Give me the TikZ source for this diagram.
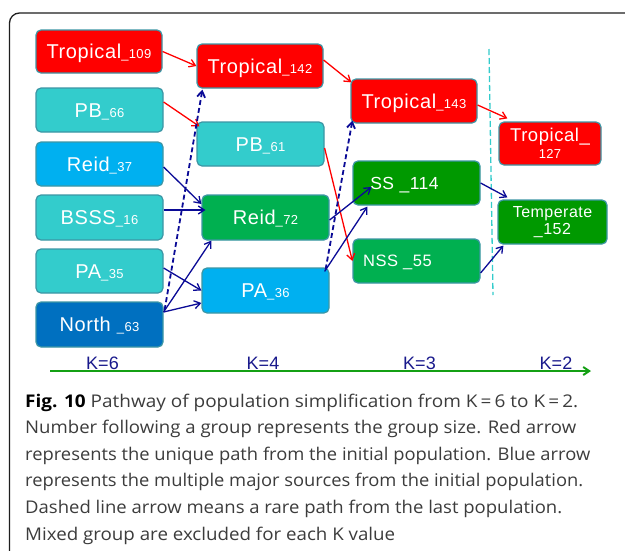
\documentclass[tikz,border=0pt]{standalone}
\usepackage{fontspec}
\usepackage{graphicx}
\setmainfont{Liberation Sans}
\newfontfamily\boxfont[LetterSpace=3]{Liberation Sans}
\newfontfamily\capfont{Open Sans}
\usetikzlibrary{arrows.meta,calc}
\definecolor{redc}{RGB}{255,0,0}
\definecolor{turq}{RGB}{51,204,204}
\definecolor{lblue}{RGB}{0,176,240}
\definecolor{dblue}{RGB}{0,112,192}
\definecolor{greenA}{RGB}{0,176,80}
\definecolor{greenB}{RGB}{0,153,0}
\definecolor{bordc}{RGB}{60,150,165}
\definecolor{navy}{RGB}{10,10,150}
\definecolor{knavy}{RGB}{25,25,140}
\definecolor{axisg}{RGB}{20,160,20}
\definecolor{capgray}{RGB}{60,60,60}
\definecolor{framec}{RGB}{30,30,30}
\newcommand\subnum[1]{{\fontsize{13}{14}\selectfont\_#1}}
\newcommand\capline[2]{\resizebox{#1pt}{\height}{\capfont\fontsize{17.5}{20}\selectfont #2}}
\begin{document}
\begin{tikzpicture}[x=1pt,y=-1pt,
  box/.style={draw=bordc, line width=1.2pt, rounded corners=5pt, text=white, inner sep=0pt,
    font=\boxfont\fontsize{20}{22}\selectfont, text height=14.3pt, text depth=0pt,
    minimum width=127pt, minimum height=44pt},
  box2/.style={draw=bordc, line width=1.2pt, rounded corners=5pt, text=white, inner sep=0pt, align=center},
  redarr/.style={draw=redc, line width=1.3pt, -{Straight Barb[length=6pt,width=8pt]}},
  bluearr/.style={draw=navy, line width=1.3pt, -{Straight Barb[length=6pt,width=8pt]}},
  bluedash/.style={draw=navy, line width=1.8pt, dash pattern=on 5pt off 3pt, -{Straight Barb[length=6pt,width=8pt]}},
  klabel/.style={text=knavy, font=\fontsize{18}{20}\selectfont, anchor=base, inner sep=0pt},
  capnode/.style={anchor=base west, inner sep=0pt, text=capgray}
]
\useasboundingbox (0,0) rectangle (625,550);
\fill[white] (0,0) rectangle (625,550);
% frame
\draw[framec, line width=1.3pt, rounded corners=10pt] (9.5,552) -- (9.5,13) -- (628,13);

% column K=6
\node[box, fill=redc, minimum width=126pt, minimum height=43pt] (T109) at (99,51.5) {Tropical\subnum{109}};
\node[box, fill=turq] (PB66) at (99.5,110) {PB\subnum{66}};
\node[box, fill=lblue] (R37) at (99.5,164) {Reid\subnum{37}};
\node[box, fill=turq, minimum height=45pt] (B16) at (99.5,217.5) {BSSS\subnum{16}};
\node[box, fill=turq] (PA35) at (99.5,271) {PA\subnum{35}};
\node[box, fill=dblue, minimum height=45pt] (N63) at (99.5,324.5) {North \subnum{63}};
% column K=4
\node[box, fill=redc, minimum width=126pt] (T142) at (260,66) {Tropical\subnum{142}};
\node[box, fill=turq] (PB61) at (260.5,144) {PB\subnum{61}};
\node[box, fill=greenA, minimum height=45pt] (R72) at (265.5,217.5) {Reid\subnum{72}};
\node[box, fill=lblue, minimum height=45pt] (PA36) at (265.5,290.5) {PA\subnum{36}};
% column K=3
\node[box, fill=redc, minimum width=126pt] (T143) at (414,101) {Tropical\subnum{143}};
\node[box, fill=greenB, font=\boxfont\fontsize{17.5}{20}\selectfont, text height=12.6pt, text depth=0pt] (SS) at (416.5,183) {\hspace*{-24pt}SS \_114};
\node[box, fill=greenA, font=\boxfont\fontsize{16.5}{20}\selectfont, text height=11.8pt, text depth=0pt] (NSS) at (416.5,261) {\hspace*{-38pt}NSS \_55};
% column K=2
\node[box2, fill=redc, minimum width=102pt, minimum height=43pt,
  font=\boxfont\fontsize{18.5}{17}\selectfont] (T127) at (550,143.5) {Tropical\_\\{\fontsize{13}{14}\selectfont 127}};
\node[box2, fill=greenB, minimum width=109pt, minimum height=44pt,
  font=\boxfont\fontsize{16}{17}\selectfont] (TE) at (552.5,222) {Temperate\\\_152};

% divider
\coordinate (d0) at (489,49);
\coordinate (d1) at (493,295);
\draw[turq, line width=1.3pt, dash pattern=on 6pt off 3pt] (d0) -- (d1);

% red arrows
\draw[redarr] (T109.east) -- (T142.west);
\draw[redarr] ([shift={(0,-8)}]PB66.east) -- ([shift={(3,5)}]PB61.north west);
\draw[redarr] ([shift={(0,-6)}]T142.east) -- ([shift={(1,4)}]T143.north west);
\draw[redarr] ([shift={(0,4)}]T143.east) -- ([shift={(9,-3)}]T127.north west);
\draw[redarr] ([shift={(0,4)}]PB61.east) -- (NSS.west);

% blue arrows
\draw[bluearr] ([shift={(0,3)}]R37.east) -- ([shift={(0,-13.5)}]R72.west);
\draw[bluearr] ([shift={(0,-7.5)}]B16.east) -- ([shift={(4,-7.5)}]R72.west);
\draw[bluearr] ([shift={(0,-3)}]PA35.east) -- (PA36.west);
\draw[bluearr] ([shift={(0,-12.5)}]N63.east) -- ([shift={(0,12.5)}]PA36.west);
\draw[bluearr] ([shift={(0,-12.5)}]N63.east) -- ([shift={(10,0)}]R72.south west);
\draw[bluedash] ([shift={(1,-14.5)}]N63.east) -- ([shift={(6,1)}]T142.south west);
\draw[bluearr] ([shift={(0,2.5)}]R72.east) -- ([shift={(19,4)}]SS.west);
\draw[bluearr] ([shift={(-5,4)}]PA36.north east) -- ([shift={(15,1)}]SS.south west);
\draw[bluedash] ([shift={(-4,2)}]PA36.north east) -- ([shift={(2,-3)}]T143.south west);
\draw[bluearr] (SS.east) -- ([shift={(10,-2)}]TE.north west);
\draw[bluearr] ([shift={(0,12)}]NSS.east) -- ([shift={(6,1)}]TE.south west);

% axis
\coordinate (ax0) at (50,371);
\coordinate (ax1) at (591,371);
\draw[axisg, line width=2pt, -{Straight Barb[length=6pt,width=8pt]}] (ax0) -- (ax1);
\node[klabel] (k6) at (102.5,369) {K=6};
\node[klabel] (k4) at (263,369) {K=4};
\node[klabel] (k3) at (419.5,369) {K=3};
\node[klabel] (k2) at (556,369) {K=2};

% caption
\node[capnode] (c1) at (25,407) {\capline{553}{{\bfseries\color{black}Fig. 10} Pathway of population simplification from K\,=\,6 to K\,=\,2.}};
\node[capnode] (c2) at (25,433.6) {\capline{551}{Number following a group represents the group size. Red arrow}};
\node[capnode] (c3) at (25,460.2) {\capline{565}{represents the unique path from the initial population. Blue arrow}};
\node[capnode] (c4) at (25,486.8) {\capline{558}{represents the multiple major sources from the initial population.}};
\node[capnode] (c5) at (25,513.4) {\capline{537}{Dashed line arrow means a rare path from the last population.}};
\node[capnode] (c6) at (25,540) {\capline{370}{Mixed group are excluded for each K value}};
\end{tikzpicture}
\end{document}
